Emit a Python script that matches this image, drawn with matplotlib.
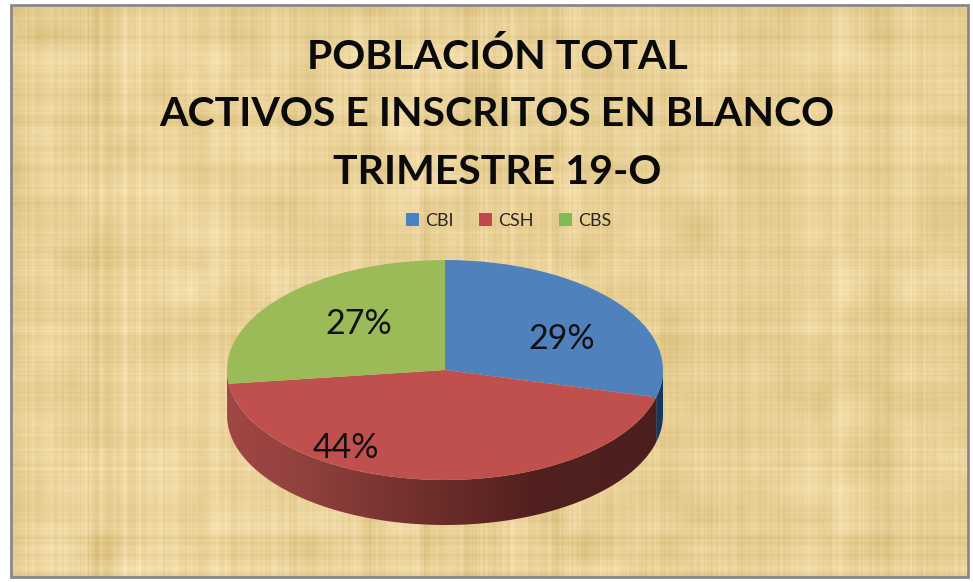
import numpy as np
import matplotlib
matplotlib.use("Agg")
import matplotlib.pyplot as plt
from matplotlib.patches import Rectangle, PathPatch
from matplotlib.path import Path
from matplotlib.colors import LinearSegmentedColormap

categories = ["CBI", "CSH", "CBS"]
values = [29, 44, 27]
colors = ["#4F81BD", "#C0504D", "#9BBB59"]
legend_colors = ["#4A80C4", "#C4474F", "#7DBB55"]
title_lines = ["POBLACIÓN TOTAL", "ACTIVOS E INSCRITOS EN BLANCO", "TRIMESTRE 19-O"]

W, H = 973, 582
FONT = "Lato"
fig = plt.figure(figsize=(W / 100, H / 100), dpi=100, facecolor="white")

# Parchment backdrop (purely decorative weave, not data)
bg = fig.add_axes([0, 0, 1, 1], zorder=0)
bg.set_xlim(0, W); bg.set_ylim(H, 0); bg.axis("off")
x0, x1, y0, y1 = 11, 968, 5, 577
rng = np.random.default_rng(19)
h, w = y1 - y0, x1 - x0

def smooth(a, k):
    pad = np.r_[a[-k:], a, a[:k]]
    return np.convolve(pad, np.ones(k) / k, mode="same")[k:-k]

def unit(a):
    return (a - a.mean()) / a.std()

def strands(n):
    fine = unit(smooth(rng.normal(size=n), 2))
    mid = unit(smooth(rng.normal(size=n), 9))
    wide = unit(smooth(rng.normal(size=n), 45))
    return 0.7 * fine + 0.7 * mid + 0.35 * wide

cols = strands(w)
rows = strands(h)
# patches: coarse grid brought up to full size
coarse = rng.normal(size=(h // 30 + 2, w // 30 + 2))
yi = np.linspace(0, coarse.shape[0] - 1.001, h)
xi = np.linspace(0, coarse.shape[1] - 1.001, w)
yf, xf = np.modf(yi)[0], np.modf(xi)[0]
yn, xn = yi.astype(int), xi.astype(int)
patch = (coarse[np.ix_(yn, xn)] * np.outer(1 - yf, 1 - xf) + coarse[np.ix_(yn + 1, xn)] * np.outer(yf, 1 - xf)
         + coarse[np.ix_(yn, xn + 1)] * np.outer(1 - yf, xf) + coarse[np.ix_(yn + 1, xn + 1)] * np.outer(yf, xf))
tex = 0.6 * cols[None, :] + 0.45 * rows[:, None] + 0.7 * patch
tex = tex / tex.std()
base = np.array([233, 209, 152]) / 255
light = np.array([5, 6, 9]) / 255
img = np.clip(base[None, None, :] + tex[..., None] * light, 0, 1)
bg.imshow(img, extent=(x0, x1, y1, y0), aspect="auto", interpolation="bilinear", zorder=0)
bg.set_xlim(0, W); bg.set_ylim(H, 0)
bg.add_patch(Rectangle((x0, y0), w, h, fill=False, ec="#8a8785", lw=2, zorder=2))

# Pie (circle in axes units, stretched to an ellipse by the axes shape)
cx, cy, rx, ry, depth = 445, 370, 218, 110, 45
ax = fig.add_axes([(cx - rx) / W, (H - cy - ry - depth) / H, 2 * rx / W, (2 * ry + depth) / H],
                  zorder=1)
wedges, _ = ax.pie(values, colors=colors, startangle=90, counterclock=False, radius=1,
                   wedgeprops=dict(lw=0))
ax.set_aspect("auto")
d = depth / ry
ax.set_xlim(-1, 1); ax.set_ylim(-1 - d, 1)

def wall(t_from, t_to, cmap):
    t = np.radians(np.linspace(t_from, t_to, 200))
    xs = np.cos(t); ys = np.sin(t)
    verts = np.r_[np.c_[xs, ys], np.c_[xs[::-1], ys[::-1] - d], [[xs[0], ys[0]]]]
    path = Path(verts)
    grad = np.linspace(0, 1, 256)[None, :]
    im = ax.imshow(grad, extent=(-1, 1, -1 - d, 1), cmap=cmap, aspect="auto", zorder=0.5, vmin=0, vmax=1)
    p = PathPatch(path, fc="none", ec="none", transform=ax.transData)
    ax.add_patch(p)
    im.set_clip_path(p)

fracs = np.cumsum(values) / np.sum(values)
a_blue_end = 90 - 360 * fracs[0]
red_cm = LinearSegmentedColormap.from_list("r", [(0, "#A04644"), (0.15, "#944240"), (0.4, "#76322F"),
                                                 (0.7, "#52211F"), (1, "#4C1F1E")])
blue_cm = LinearSegmentedColormap.from_list("b", ["#1F4468", "#17375E"])
wall(0, a_blue_end, blue_cm)
wall(a_blue_end, -180, red_cm)
ax.set_xlim(-1, 1); ax.set_ylim(-1 - d, 1)
for s in ax.spines.values():
    s.set_visible(False)

# Overlay for text in pixel coordinates
ov = fig.add_axes([0, 0, 1, 1], zorder=3)
ov.set_xlim(0, W); ov.set_ylim(H, 0); ov.axis("off"); ov.patch.set_alpha(0)

for line, y in zip(title_lines, [57, 115, 172]):
    ov.text(497, y, line, family=FONT, weight="bold", fontsize=29.5, ha="center", va="center", color="#0a0a0a")

for v, (x, y) in zip(values, [(562, 339), (346, 448), (359, 324)]):
    ov.text(x, y, f"{v}%", family=FONT, fontsize=24.5, ha="center", va="center", color="#111111")

for name, c, sx in zip(categories, legend_colors, [406, 479, 559]):
    ov.add_patch(Rectangle((sx, 213), 13, 13, fc=c, ec="none"))
    ov.text(sx + 19, 221, name, family=FONT, fontsize=13, ha="left", va="center", color="#2b2620")

fig.savefig("out.png", dpi=100, facecolor="white")
